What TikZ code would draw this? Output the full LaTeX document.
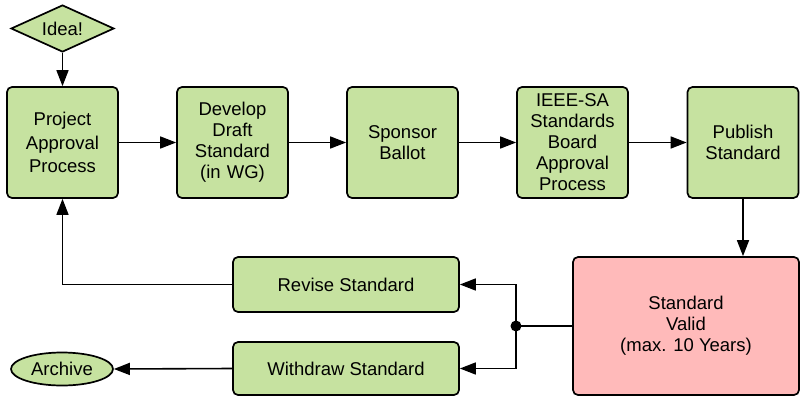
\documentclass[tikz,border=0pt]{standalone}
\usepackage{fontspec}
\setmainfont{Liberation Sans}
\usetikzlibrary{arrows.meta,shapes.geometric}
\definecolor{boxgreen}{HTML}{C6E2A0}
\definecolor{boxred}{HTML}{FFBABA}
\tikzset{
  stepbox/.style={draw=black, line width=1.7pt, fill=boxgreen, rounded corners=5pt,
    align=center, inner sep=2pt, font=\fontsize{18.5}{21}\selectfont},
  tallbox/.style={stepbox, minimum width=111pt, minimum height=111pt, text width=105pt},
  widebox/.style={stepbox, minimum width=226pt},
  flow/.style={line width=1.6pt, -{Triangle[length=16pt,width=12pt]}},
  plainline/.style={line width=1.6pt}
}
\begin{document}
\begin{tikzpicture}[x=1pt, y=-1pt]
  \useasboundingbox (0,0) rectangle (802,396);

  % start marker
  \node[draw=black, line width=1.7pt, fill=boxgreen, diamond, aspect=2.2,
        minimum width=103pt, minimum height=47pt, inner sep=0pt,
        font=\fontsize{18.5}{21}\selectfont] (idea) at (62.5,28.5) {Idea!};

  % main process row
  \node[tallbox, font=\fontsize{18.5}{23.5}\selectfont] (proj) at (62.5,142.5) {Project\\Approval\\Process};
  \node[tallbox] (dev)  at (232.5,142.5) {Develop\\Draft\\Standard\\(in WG)};
  \node[tallbox] (spon) at (402.5,142.5) {Sponsor\\Ballot};
  \node[tallbox] (ieee) at (572.5,142.5) {IEEE-SA\\Standards\\Board\\Approval\\Process};
  \node[tallbox] (pub)  at (743,142.5) {Publish\\Standard};

  % validity state
  \node[stepbox, fill=boxred, minimum width=226pt, minimum height=138pt] (valid) at (686,326) {Standard\\Valid\\(max. 10 Years)};

  % revision / withdrawal
  \node[widebox, minimum height=55pt] (revise)   at (346,284.5) {Revise Standard};
  \node[widebox, minimum height=53pt] (withdraw) at (346,368.5) {Withdraw Standard};

  % end marker
  \node[draw=black, line width=1.7pt, fill=boxgreen, ellipse, minimum width=102pt,
        minimum height=33pt, inner sep=0pt, font=\fontsize{18.5}{21}\selectfont] (archive) at (62,369) {Archive};

  \coordinate (split) at (516,326);

  % connectors
  \draw[flow] (idea) -- (proj);
  \draw[flow] (proj) -- (dev);
  \draw[flow] (dev) -- (spon);
  \draw[flow] (spon) -- (ieee);
  \draw[flow] (ieee) -- (pub);
  \draw[flow] (pub.south) -- (pub.south |- valid.north);
  \draw[plainline] (valid.west) -- (split);
  \draw[flow] (split) |- (revise.east);
  \draw[flow] (split) |- (withdraw.east);
  \draw[flow] (revise.west) -| (proj.south);
  \draw[flow] (withdraw.west) -- (archive.east);
  \fill (split) circle (5.5pt);
\end{tikzpicture}
\end{document}
